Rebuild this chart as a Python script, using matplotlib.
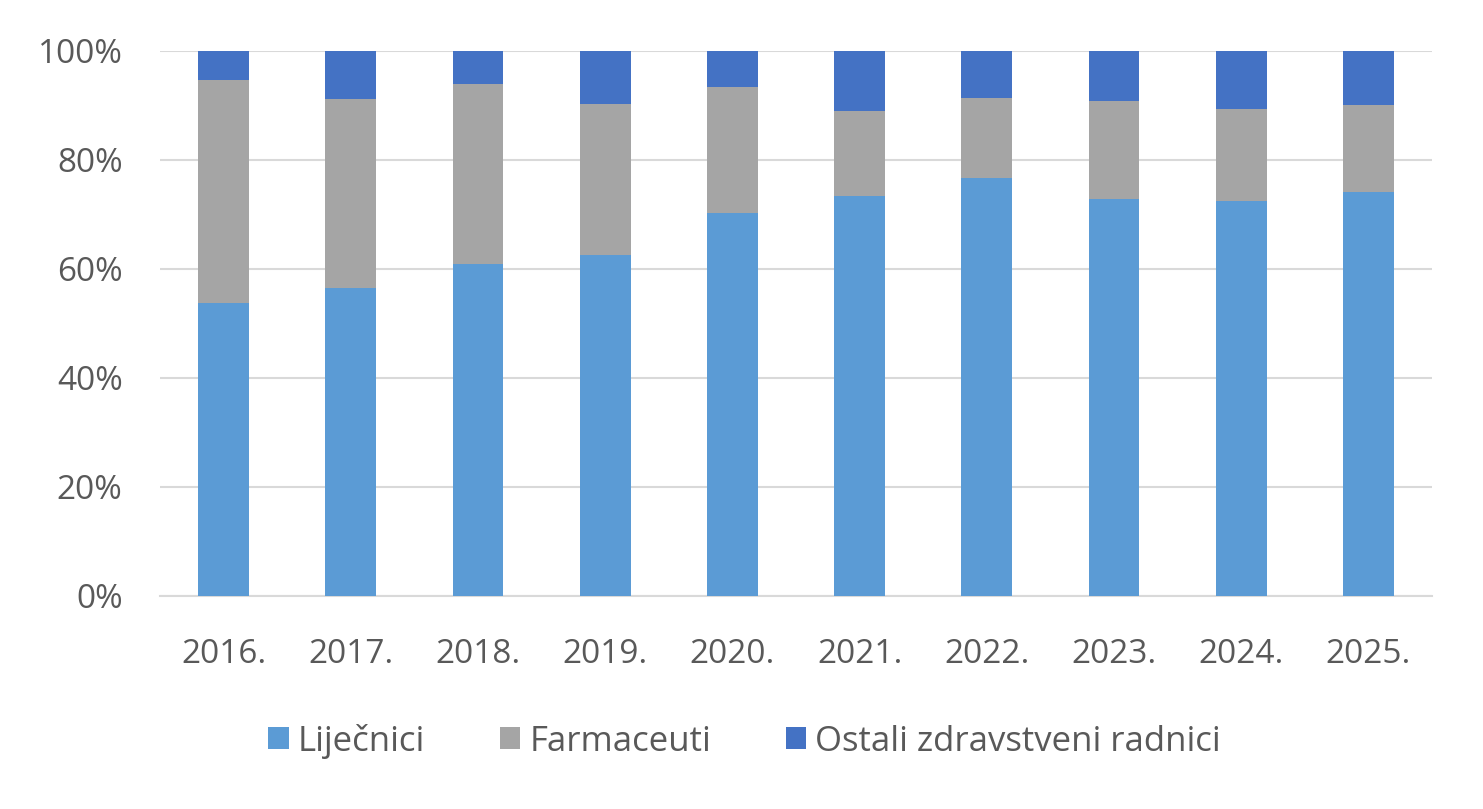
import matplotlib.pyplot as plt
import numpy as np

plt.rcParams['font.family'] = ['Open Sans', 'DejaVu Sans']

years = ['2016.', '2017.', '2018.', '2019.', '2020.', '2021.', '2022.', '2023.', '2024.', '2025.']
# shares in %
lijecnici = [53.8, 56.5, 60.9, 62.6, 70.3, 73.4, 76.7, 72.8, 72.5, 74.1]
farmaceuti = [40.9, 34.7, 33.1, 27.7, 23.1, 15.6, 14.7, 18.0, 16.9, 16.0]
ostali = [5.3, 8.8, 6.0, 9.7, 6.6, 11.0, 8.6, 9.2, 10.6, 9.9]

names = ['Liječnici', 'Farmaceuti', 'Ostali zdravstveni radnici']
colors = ['#5B9BD5', '#A5A5A5', '#4472C4']
text_color = '#595959'

fig = plt.figure(figsize=(14.83, 8.09), dpi=100)
ax = fig.add_axes([0.1079, 0.2633, 0.8577, 0.6737])

x = np.arange(len(years))
bottom = np.zeros(len(years))
for vals, name, col in zip([lijecnici, farmaceuti, ostali], names, colors):
    vals = np.array(vals)
    ax.bar(x, vals, 0.4, bottom=bottom, color=col, label=name, zorder=3)
    bottom += vals

ax.set_xlim(-0.5, len(years) - 0.5)
ax.set_ylim(0, 100)
ax.set_yticks(range(0, 101, 20))
ax.set_yticklabels([f'{v}%' for v in range(0, 101, 20)])
ax.set_xticks(x)
ax.set_xticklabels(years)
ax.tick_params(length=0, labelsize=24, labelcolor=text_color)
ax.tick_params(axis='y', pad=27)
ax.tick_params(axis='x', pad=30)

ax.grid(axis='y', color='#D9D9D9', linewidth=1.5, zorder=0)
for s in ['top', 'right', 'left']:
    ax.spines[s].set_visible(False)
ax.spines['bottom'].set_color('#D9D9D9')
ax.spines['bottom'].set_linewidth(1.5)

fig.legend(loc='center', bbox_to_anchor=(0.502, 0.084), ncol=3, frameon=False,
           fontsize=25, labelcolor=text_color, handlelength=0.6, handleheight=0.6,
           handletextpad=0.25, columnspacing=2.15)

fig.savefig('out.png', dpi=100)
